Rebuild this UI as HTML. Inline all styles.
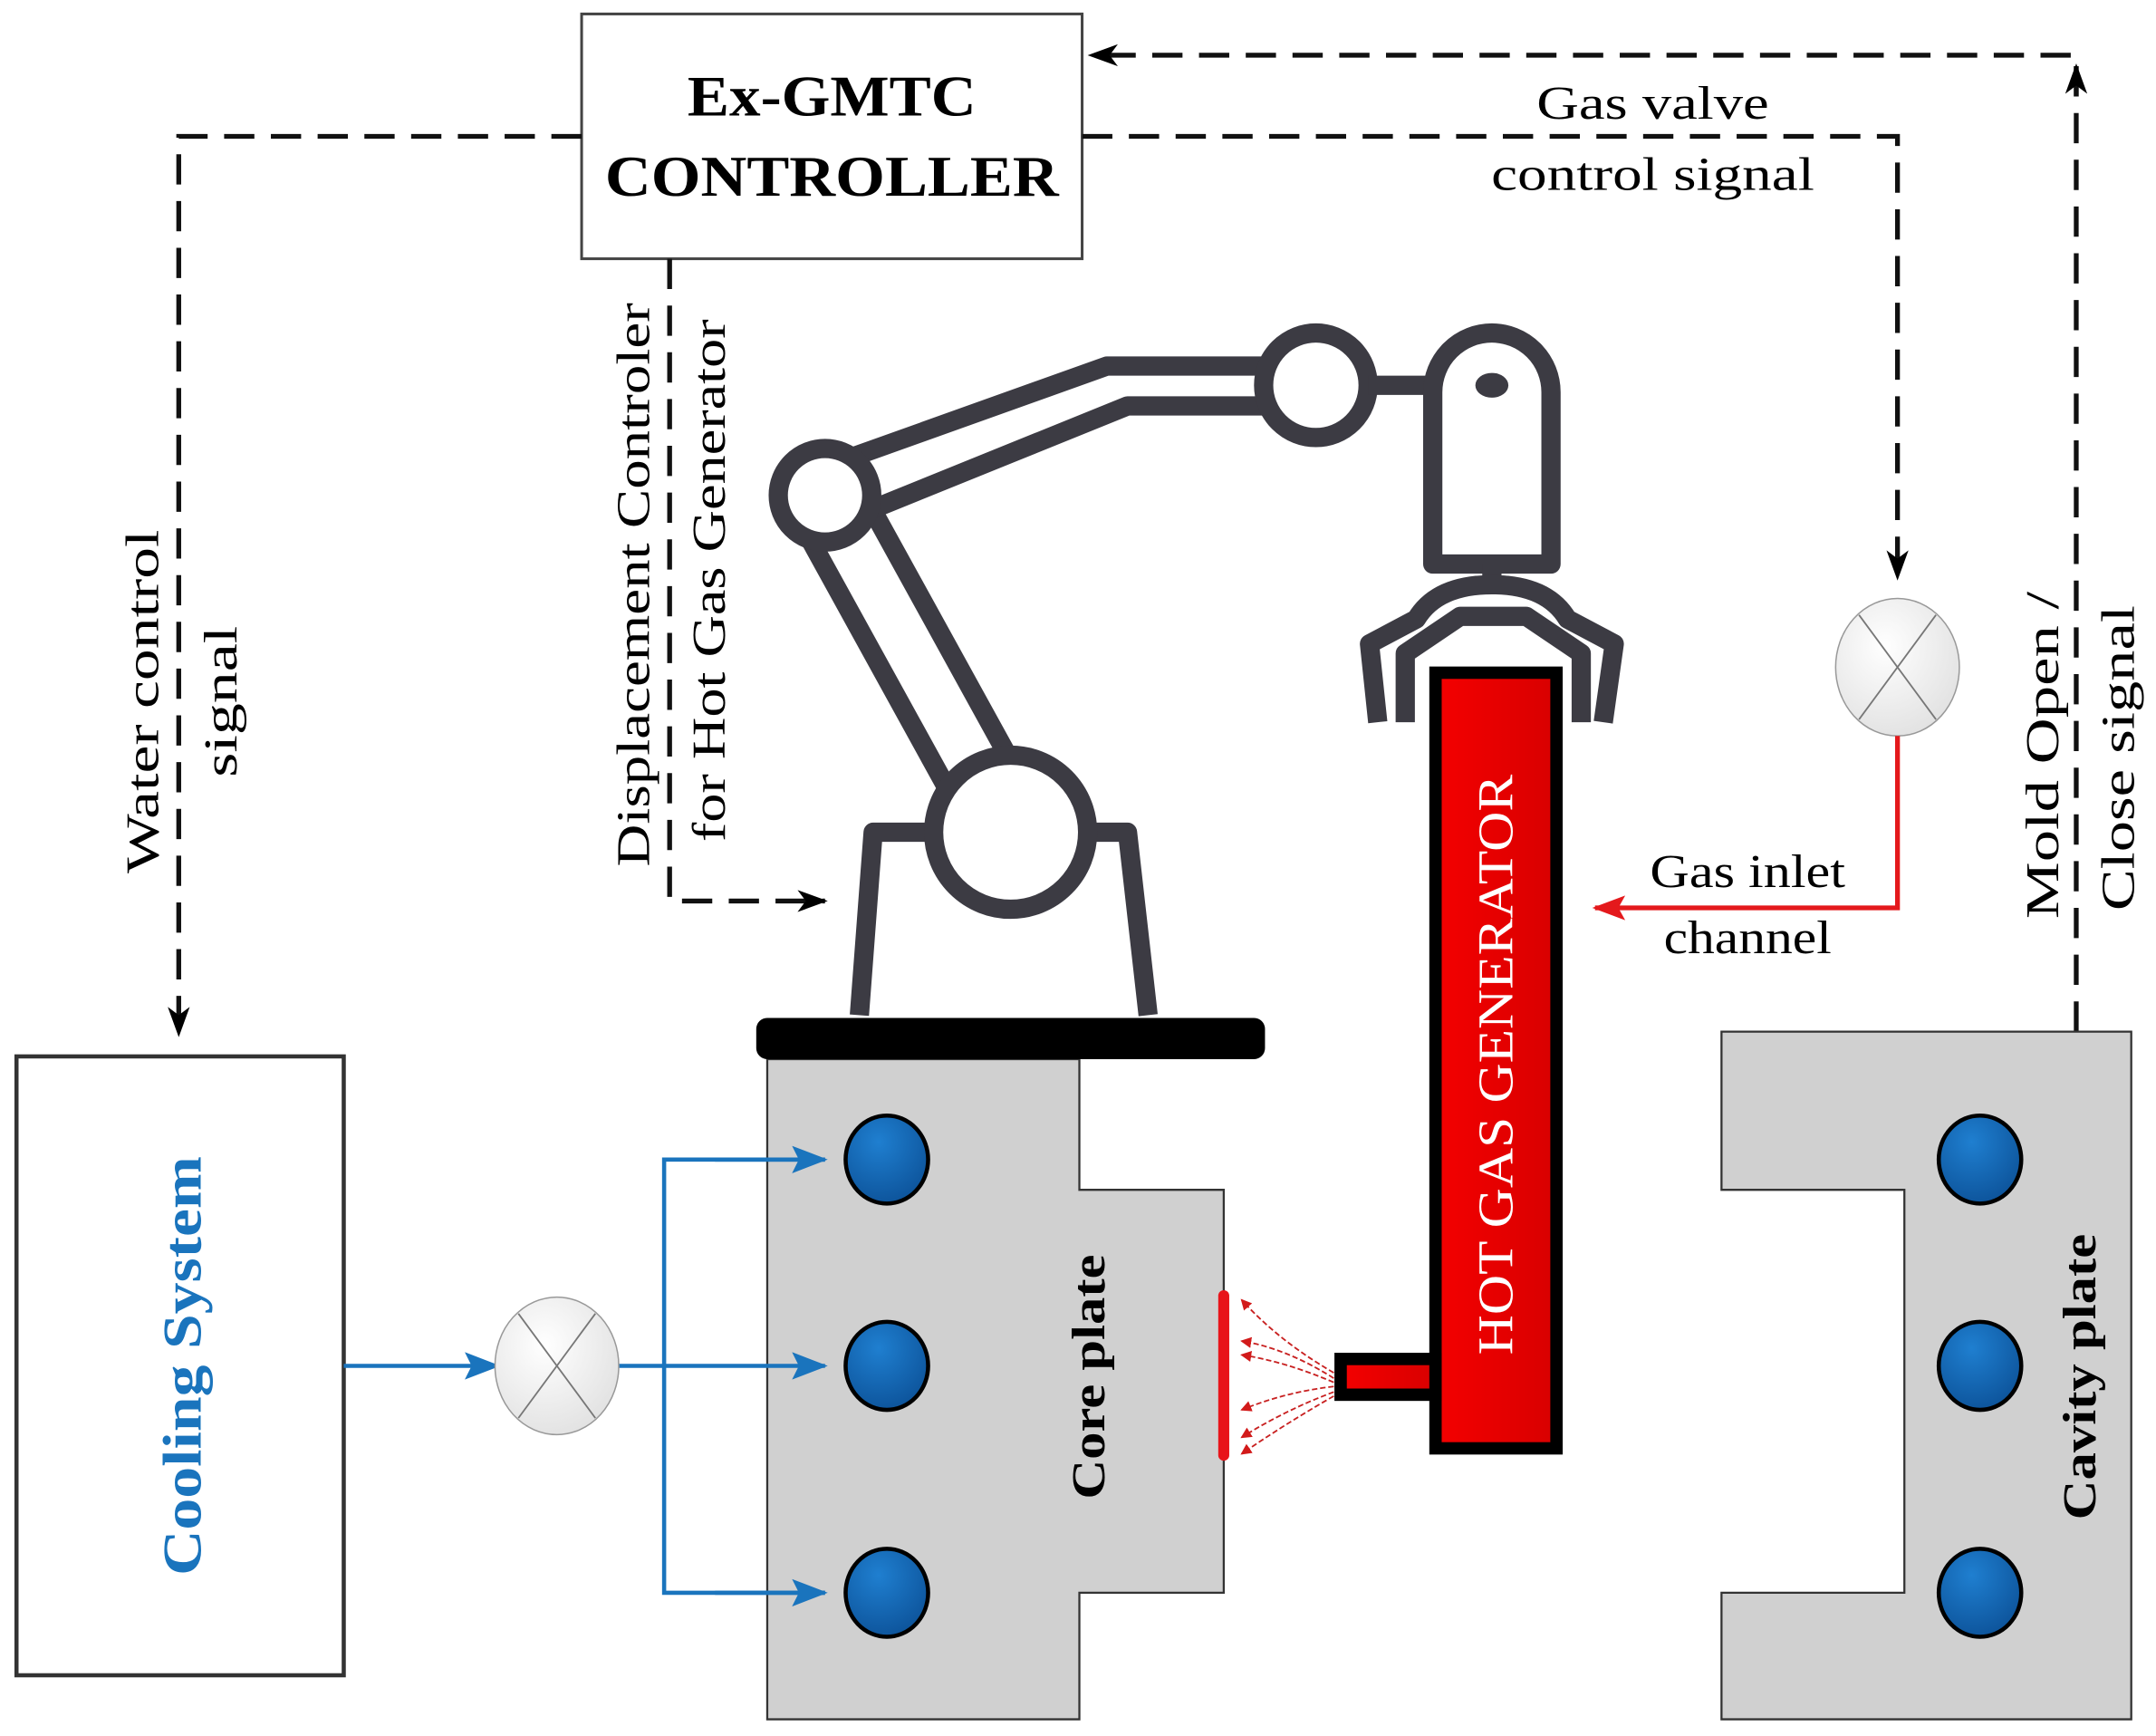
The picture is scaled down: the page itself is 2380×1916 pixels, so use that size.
<!DOCTYPE html>
<html><head><meta charset="utf-8"><style>
html,body{margin:0;padding:0;background:#fff;}
svg{display:block;}
text{font-family:"Liberation Serif",serif;}
</style></head><body>
<svg width="2380" height="1916" viewBox="0 0 1568 1262" xmlns="http://www.w3.org/2000/svg">
<defs>
<marker id="ak2" markerWidth="22" markerHeight="16" refX="20" refY="8" orient="auto" markerUnits="userSpaceOnUse"><path d="M0,0 L22,8 L0,16 L6,8 z" fill="#000"/></marker>
<marker id="ab" markerWidth="26" markerHeight="20" refX="24" refY="10" orient="auto" markerUnits="userSpaceOnUse"><path d="M0,0 L26,10 L0,20 L5,10 z" fill="#1a74bd"/></marker>
<marker id="ar" markerWidth="24" markerHeight="18" refX="22" refY="9" orient="auto" markerUnits="userSpaceOnUse"><path d="M0,0 L24,9 L0,18 L5,9 z" fill="#e4191c"/></marker>
<marker id="as" markerWidth="8" markerHeight="8" refX="7" refY="4" orient="auto" markerUnits="userSpaceOnUse"><path d="M0,0 L8,4 L0,8 z" fill="#d21a1a"/></marker>
<radialGradient id="bl" cx="0.4" cy="0.3" r="0.8"><stop offset="0" stop-color="#1f7fd0"/><stop offset="1" stop-color="#0b4f95"/></radialGradient>
<radialGradient id="vg" cx="0.4" cy="0.35" r="0.8"><stop offset="0" stop-color="#fff"/><stop offset="1" stop-color="#ddd"/></radialGradient>
<linearGradient id="rg" x1="0" x2="1"><stop offset="0" stop-color="#f40000"/><stop offset="1" stop-color="#d80000"/></linearGradient>
</defs>

<rect x="423" y="10" width="364" height="178" fill="#fff" stroke="#444" stroke-width="2"/>
<text x="605" y="84" font-size="42" font-weight="bold" text-anchor="middle" textLength="210" lengthAdjust="spacingAndGlyphs">Ex-GMTC</text>
<text x="605" y="142" font-size="42" font-weight="bold" text-anchor="middle" textLength="330" lengthAdjust="spacingAndGlyphs">CONTROLLER</text>

<g fill="none" stroke="#111" stroke-width="3.5" stroke-dasharray="22,12">
<path d="M423,99 H130 V752" marker-end="url(#ak2)"/>
<path d="M787,99 H1380 V420" marker-end="url(#ak2)"/>
<path d="M1510,750 V40 H793" marker-end="url(#ak2)"/>
<path d="M487,188 V655 H600" marker-end="url(#ak2)"/>
</g>
<path d="M1510,70 V48" stroke="#111" stroke-width="3.5" marker-end="url(#ak2)"/>

<g font-size="34" text-anchor="middle" lengthAdjust="spacingAndGlyphs">
<text x="1202" y="86" textLength="169" lengthAdjust="spacingAndGlyphs">Gas valve</text>
<text x="1202" y="138" textLength="235" lengthAdjust="spacingAndGlyphs">control signal</text>
<text transform="translate(115,510) rotate(-90)" textLength="250" lengthAdjust="spacingAndGlyphs">Water control</text>
<text transform="translate(172,510) rotate(-90)" textLength="110" lengthAdjust="spacingAndGlyphs">signal</text>
<text transform="translate(472,425) rotate(-90)" textLength="410" lengthAdjust="spacingAndGlyphs">Displacement Controler</text>
<text transform="translate(527,422) rotate(-90)" textLength="380" lengthAdjust="spacingAndGlyphs">for Hot Gas Generator</text>
<text transform="translate(1497,549) rotate(-90)" textLength="238" lengthAdjust="spacingAndGlyphs">Mold Open /</text>
<text transform="translate(1552,551) rotate(-90)" textLength="222" lengthAdjust="spacingAndGlyphs">Close signal</text>
<text x="1271" y="645" textLength="142" lengthAdjust="spacingAndGlyphs">Gas inlet</text>
<text x="1271" y="693" textLength="122" lengthAdjust="spacingAndGlyphs">channel</text>
</g>

<rect x="12" y="768" width="238" height="450" fill="#fff" stroke="#333" stroke-width="3"/>
<text transform="translate(146,993) rotate(-90)" font-size="40" font-weight="bold" fill="#1a74bd" text-anchor="middle" textLength="305" lengthAdjust="spacingAndGlyphs">Cooling System</text>

<path d="M558,770 H785 V865 H890 V1158 H785 V1250 H558 Z" fill="#d0d0d0" stroke="#333" stroke-width="1.5"/>
<text transform="translate(803,1001) rotate(-90)" font-size="34" font-weight="bold" text-anchor="middle" textLength="178" lengthAdjust="spacingAndGlyphs">Core plate</text>
<rect x="886" y="938" width="8" height="124" rx="4" fill="#e8141a"/>

<path d="M1252,750 H1550 V1250 H1252 V1158 H1385 V865 H1252 Z" fill="#d0d0d0" stroke="#333" stroke-width="1.5"/>
<text transform="translate(1524,1001) rotate(-90)" font-size="34" font-weight="bold" text-anchor="middle" textLength="208" lengthAdjust="spacingAndGlyphs">Cavity plate</text>

<g fill="url(#bl)" stroke="#000" stroke-width="3">
<ellipse cx="645" cy="843" rx="30" ry="32"/><ellipse cx="645" cy="993" rx="30" ry="32"/><ellipse cx="645" cy="1158" rx="30" ry="32"/>
<ellipse cx="1440" cy="843" rx="30" ry="32"/><ellipse cx="1440" cy="993" rx="30" ry="32"/><ellipse cx="1440" cy="1158" rx="30" ry="32"/>
</g>

<g fill="none" stroke="#1a74bd" stroke-width="3">
<path d="M250,993 H362" marker-end="url(#ab)"/>
<path d="M450,993 H600" marker-end="url(#ab)"/>
<path d="M600,843 H483 V1158 H600" />
<path d="M520,843 H600" marker-end="url(#ab)"/>
<path d="M520,1158 H600" marker-end="url(#ab)"/>
</g>

<g stroke="#999" stroke-width="1" fill="url(#vg)">
<ellipse cx="405" cy="993" rx="45" ry="50"/>
<ellipse cx="1380" cy="485" rx="45" ry="50"/>
</g>
<g stroke="#777" stroke-width="1.2">
<path d="M377,955 L433,1031 M433,955 L377,1031"/>
<path d="M1352,447 L1408,523 M1408,447 L1352,523"/>
</g>

<path d="M1380,535 V660 H1160" fill="none" stroke="#e4191c" stroke-width="3.5" marker-end="url(#ar)"/>

<g fill="#fff" stroke="#3c3b43" stroke-width="14" stroke-linejoin="round">
<path d="M625,738 L635,605 H820 L835,738"/>
<path d="M757,593 L622,348 L578,372 L713,617 Z"/>
<path d="M598,340 L805,266 H955 V295 H820 L615,378 Z"/>
<circle cx="735" cy="605" r="56"/>
<circle cx="600" cy="360" r="34"/>
<circle cx="957" cy="280" r="38"/>
<path d="M995,280 H1042"/>
<path d="M1042,410 V285 A43,43 0 0 1 1128,285 V410 Z"/>
<path d="M1085,410 V428"/>
<path d="M1002,525 L996,468 L1030,450 Q1045,425 1085,425 Q1125,425 1140,450 L1174,468 L1166,525"/>
<path d="M1022,525 V475 L1062,448 H1110 L1150,475 V525"/>
</g>
<ellipse cx="1085" cy="280" rx="12" ry="9" fill="#3c3b43"/>
<rect x="550" y="740" width="370" height="30" rx="8" fill="#000"/>

<rect x="1044" y="489" width="88" height="564" fill="url(#rg)" stroke="#000" stroke-width="9"/>
<rect x="975" y="988" width="69" height="26" fill="url(#rg)" stroke="#000" stroke-width="9"/>
<text transform="translate(1100,774) rotate(-90)" font-size="36" fill="#fff" text-anchor="middle" textLength="422" lengthAdjust="spacingAndGlyphs">HOT GAS GENERATOR</text>

<g fill="none" stroke="#c82020" stroke-width="1.2" stroke-dasharray="4,2">
<path d="M970,998 Q930,975 903,945" marker-end="url(#as)"/>
<path d="M970,1002 Q935,980 903,975" marker-end="url(#as)"/>
<path d="M970,1005 Q935,990 903,985" marker-end="url(#as)"/>
<path d="M970,1008 Q935,1012 903,1025" marker-end="url(#as)"/>
<path d="M970,1012 Q935,1025 903,1045" marker-end="url(#as)"/>
<path d="M970,1015 Q935,1035 903,1057" marker-end="url(#as)"/>
</g>
</svg>
</body></html>
